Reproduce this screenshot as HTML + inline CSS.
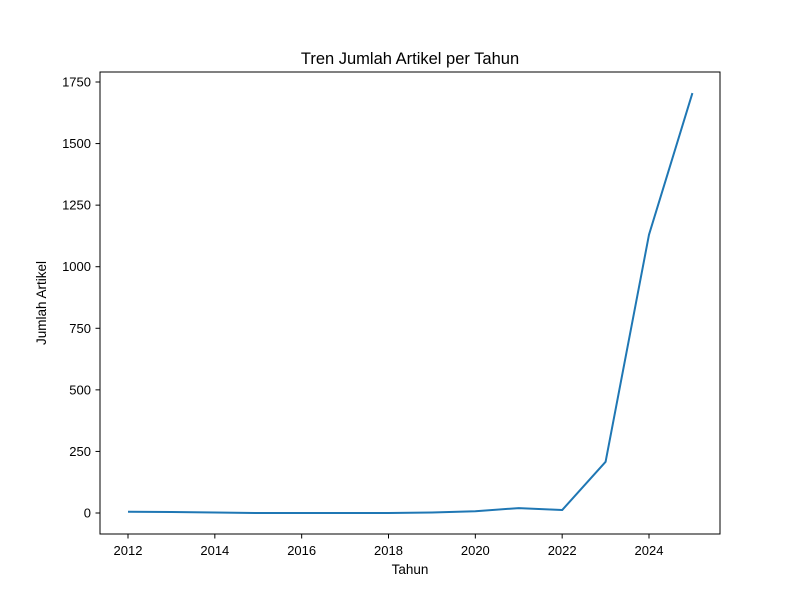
<!DOCTYPE html>
<html><head><meta charset="utf-8"><style>
body{margin:0;background:#fff;font-family:"Liberation Sans","DejaVu Sans",sans-serif}
</style></head><body>
<svg id="chart" width="800" height="600" xmlns="http://www.w3.org/2000/svg">
<rect width="800" height="600" fill="#fff"/>
<text x="410" y="64" text-anchor="middle" font-size="16.5" fill="#000">Tren Jumlah Artikel per Tahun</text>
<text x="410" y="574" text-anchor="middle" font-size="13.5" fill="#000">Tahun</text>
<text transform="translate(46,303) rotate(-90)" text-anchor="middle" font-size="13.5" fill="#000">Jumlah Artikel</text>
<g id="ticks"></g>
<path id="line" fill="none" stroke="#1f77b4" stroke-width="2" stroke-linejoin="round"/>
<rect x="100" y="72" width="620" height="462" fill="none" stroke="#000" stroke-width="1"/>
</svg>
<script>
const years=[2012,2013,2014,2015,2016,2017,2018,2019,2020,2021,2022,2023,2024,2025];
const counts=[5,4,2,0,0,0,0,2,7,20,12,208,1130,1705];
const xTicks=[2012,2014,2016,2018,2020,2022,2024];
const yTicks=[0,250,500,750,1000,1250,1500,1750];
const x=v=>128+(v-2012)*(649-128)/12;
const y=v=>513-v*(513-82)/1750;
const NS="http://www.w3.org/2000/svg";
const g=document.getElementById('ticks');
function mk(t,a){const e=document.createElementNS(NS,t);for(const k in a)e.setAttribute(k,a[k]);g.appendChild(e);return e;}
xTicks.forEach(t=>{
  const l=mk('line',{x1:x(t),x2:x(t),y1:534,y2:538.5,stroke:'#000'});
  
  
  const s=mk('text',{x:x(t),y:555,'text-anchor':'middle','font-size':'13'});
  
  
  s.textContent=t;
});
yTicks.forEach(t=>{
  const l=mk('line',{x1:95.5,x2:100,y1:y(t),y2:y(t),stroke:'#000'});
  
  
  const s=mk('text',{x:91,y:y(t)+4.5,'text-anchor':'end','font-size':'13'});
  
  
  s.textContent=t;
});
document.getElementById('line').setAttribute('d',years.map((v,i)=>(i?'L':'M')+x(v)+','+y(counts[i])).join(''));
</script>
</body></html>
